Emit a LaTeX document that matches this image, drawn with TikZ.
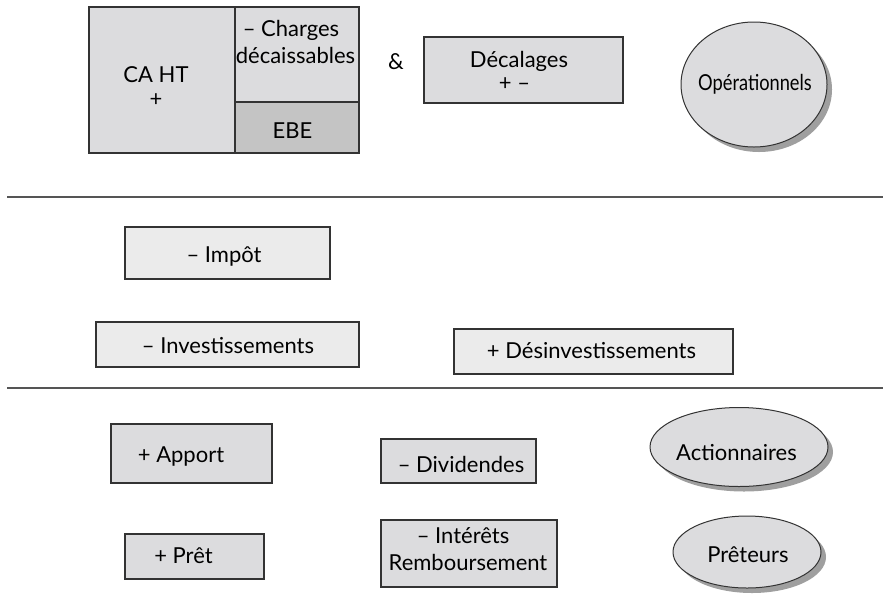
\documentclass[tikz,border=0pt]{standalone}
\usepackage{fontspec}
\setmainfont{Lato}
\usetikzlibrary{shapes.geometric,shadows}
\definecolor{boxgray}{HTML}{DCDCDE}
\definecolor{ebegray}{HTML}{C4C4C4}
\definecolor{lightbox}{HTML}{EBEBEB}
\definecolor{edgecol}{HTML}{333333}
\definecolor{sepcol}{HTML}{555555}
\tikzset{
  box/.style={draw=edgecol, line width=1.1pt, fill=boxgray, inner sep=0pt, rectangle},
  lbox/.style={box, fill=lightbox},
  txt/.style={font=\fontsize{22}{26}\selectfont, inner sep=0pt, anchor=base},
  oval/.style={ellipse, draw=edgecol, line width=1pt, fill=boxgray, inner sep=0pt,
    drop shadow={shadow xshift=5pt, shadow yshift=-5pt, fill=gray!75, opacity=1}},
  sepline/.style={draw=sepcol, line width=1.4pt}
}
\begin{document}
\begin{tikzpicture}[x=1pt,y=-1pt]
\useasboundingbox[fill=white] (0,0) rectangle (883,598);
% top block
\node[box, minimum width=146pt, minimum height=146pt] (ca) at (162,80) {};
\node[box, minimum width=124pt, minimum height=95pt] (ch) at (297,54.5) {};
\node[box, fill=ebegray, minimum width=124pt, minimum height=51pt] (ebe) at (297,127.5) {};
\node[txt] (catxt) at (156,82) {CA HT};
\node[txt] (caplus) at (156,106.5) {+};
\node[txt] (chtxt) at (291,36) {– Charges};
\node[txt] (chtxtb) at (295.5,63) {décaissables};
\node[txt] (ebetxt) at (292.5,138) {EBE};
\node[txt] (amp) at (396,69) {\&};
\node[box, minimum width=199pt, minimum height=66pt] (dec) at (523.5,70) {};
\node[txt] (dectxt) at (519,67) {Décalages};
\node[txt] (dectxtb) at (514.5,90) {+ –};
\node[oval, minimum width=146pt, minimum height=125pt] (op) at (754,84.5) {};
\node[txt] (optxt) at (755,90) {\scalebox{0.83}[1]{Opérationnels}};
% separators
\coordinate (l1a) at (7,197);
\coordinate (l1b) at (883,197);
\coordinate (l2a) at (7,388);
\coordinate (l2b) at (883,388);
\draw[sepline] (l1a) -- (l1b);
\draw[sepline] (l2a) -- (l2b);
% middle
\node[lbox, minimum width=205pt, minimum height=52pt] (imp) at (227.5,253) {};
\node[txt] (imptxt) at (224,262) {– Impôt};
\node[lbox, minimum width=263pt, minimum height=45pt] (inv) at (227.5,344.5) {};
\node[txt] (invtxt) at (228,353) {– Investissements};
\node[lbox, minimum width=279pt, minimum height=45pt] (desinv) at (593.5,351.5) {};
\node[txt] (desinvtxt) at (591.5,358) {+ Désinvestissements};
% bottom
\node[box, minimum width=161pt, minimum height=59pt] (app) at (191.5,453.5) {};
\node[txt] (apptxt) at (181,462) {+ Apport};
\node[box, minimum width=155pt, minimum height=44pt] (div) at (458.5,461) {};
\node[txt] (divtxt) at (461,472) {– Dividendes};
\node[box, minimum width=139pt, minimum height=45pt] (pret) at (194.5,556.5) {};
\node[txt] (prettxt) at (183.5,563) {+ Prêt};
\node[box, minimum width=176pt, minimum height=67pt] (int) at (469,553.5) {};
\node[txt] (inttxt) at (463,543) {– Intérêts};
\node[txt] (inttxtb) at (468,570) {Remboursement};
\node[oval, minimum width=178pt, minimum height=79pt] (act) at (739,447) {};
\node[txt] (acttxt) at (736.5,460) {Actionnaires};
\node[oval, minimum width=148pt, minimum height=72pt] (prt) at (747,552) {};
\node[txt] (prttxt) at (748,562) {Prêteurs};
\end{tikzpicture}
\end{document}
